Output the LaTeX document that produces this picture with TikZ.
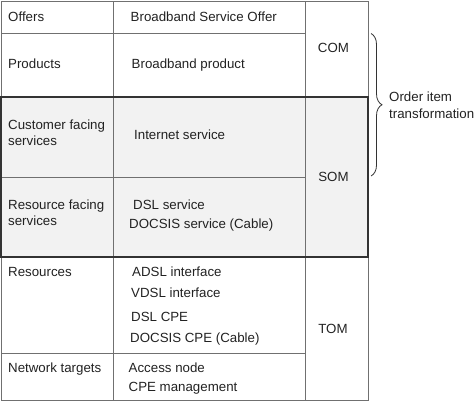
\documentclass[tikz,border=0pt]{standalone}
\usepackage{fontspec}
\setmainfont{Liberation Sans}
\usetikzlibrary{decorations.pathreplacing}
\definecolor{gridc}{HTML}{707070}
\definecolor{darkc}{HTML}{333333}
\definecolor{bandc}{HTML}{F2F2F2}
\definecolor{txt}{HTML}{222222}
\begin{document}
\begin{tikzpicture}[x=1pt,y=-1pt,
  gridline/.style={draw=gridc, line width=1pt},
  darkline/.style={draw=darkc, line width=1.3pt},
  lbl/.style={anchor=base west, inner sep=0pt, text=txt, font=\fontsize{13.3}{16}\selectfont},
  clbl/.style={anchor=base, inner sep=0pt, text=txt, font=\fontsize{13.3}{16}\selectfont}]
\useasboundingbox (0,0) rectangle (476,402);
% shaded band
\fill[bandc] (1,97) rectangle (368,257);
% grid
\draw[gridline] (1,1.5) rectangle (368,400);
\draw[gridline] (113,1.5) -- (113,400);
\draw[gridline] (305,1.5) -- (305,400);
\draw[gridline] (1,33) -- (305,33);
\draw[gridline] (1,177) -- (305,177);
\draw[gridline] (1,353) -- (305,353);
\draw[darkline] (1,97) rectangle (368,257);
% left column
\node[lbl] (offers) at (8,21) {Offers};
\node[lbl] (products) at (8,68) {Products};
\node[lbl] (cfs1) at (8,129.5) {Customer facing};
\node[lbl] (cfs2) at (8,145.5) {services};
\node[lbl] (rfs1) at (8,209.5) {Resource facing};
\node[lbl] (rfs2) at (8,225.5) {services};
\node[lbl] (res) at (8,276) {Resources};
\node[lbl] (net) at (8,372) {Network targets};
% middle column
\node[lbl] (bso) at (130.5,21) {Broadband Service Offer};
\node[lbl] (bp) at (131.5,68) {Broadband product};
\node[lbl] (is) at (134,139.5) {Internet service};
\node[lbl] (dsl) at (133,209.5) {DSL service};
\node[lbl] (docsis) at (129,228.5) {DOCSIS service (Cable)};
\node[lbl] (adsl) at (132,276) {ADSL interface};
\node[lbl] (vdsl) at (131,297.5) {VDSL interface};
\node[lbl] (dslcpe) at (131,321.5) {DSL CPE};
\node[lbl] (docsiscpe) at (130,342.5) {DOCSIS CPE (Cable)};
\node[lbl] (access) at (128.5,372) {Access node};
\node[lbl] (cpem) at (128.5,391) {CPE management};
% right column
\node[clbl] (com) at (333.5,52.7) {COM};
\node[clbl] (som) at (333.5,181.7) {SOM};
\node[clbl] (tom) at (333,333.3) {TOM};
% brace
\coordinate (bt) at (371,33.5);
\coordinate (bb) at (371,176);
\draw[darkc, line width=0.8pt, decorate, decoration={brace, amplitude=11pt}] (bt) -- (bb);
\node[lbl] (oit1) at (389,101.7) {Order item};
\node[lbl] (oit2) at (389,118) {transformation};
\end{tikzpicture}
\end{document}
